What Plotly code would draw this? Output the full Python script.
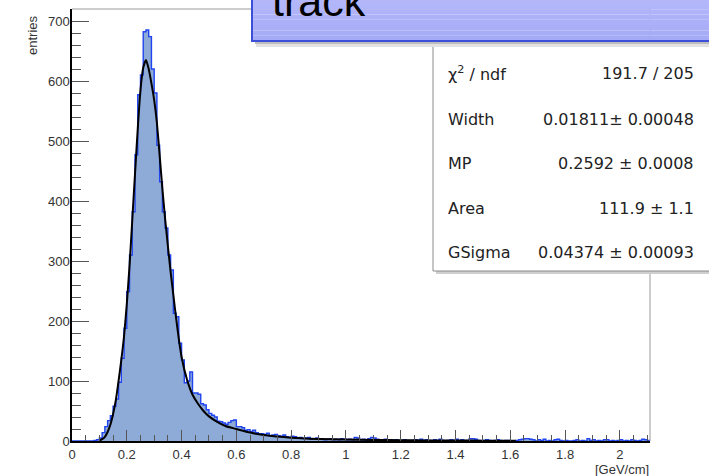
import numpy as np
import plotly.graph_objects as go

# ---------------- data ----------------
bin_width = 0.01
x_start = 0.0
counts = [
    0, 0, 0, 0, 0, 0, 0, 0, 1, 2,
    5, 14, 24, 34, 42, 58, 70, 98, 138, 188,
    249, 310, 382, 477, 577, 610, 682, 685, 674, 620,
    580, 493, 432, 382, 355, 310, 285, 213, 207, 163,
    135, 97, 100, 115, 80, 80, 78, 62, 60, 52,
    46, 43, 40, 33, 32, 30, 28, 31, 34, 35,
    24, 24, 22, 18, 19, 16, 18, 14, 12, 12,
    11, 13, 9, 10, 11, 9, 8, 10, 7, 6,
    8, 7, 5, 6, 4, 5, 6, 3, 4, 5,
    3, 4, 2, 3, 4, 2, 3, 2, 4, 3,
    2, 3, 2, 6, 5, 2, 3, 1, 4, 6,
    5, 3, 1, 2, 3, 1, 2, 1, 2, 0,
    1, 2, 1, 0, 1, 2, 1, 3, 1, 2,
    1, 0, 2, 1, 3, 1, 0, 1, 2, 1,
    3, 1, 2, 0, 1, 4, 4, 3, 1, 0,
    1, 2, 1, 0, 1, 2, 1, 0, 1, 1,
    0, 0, 1, 2, 3, 4, 4, 3, 2, 0,
    2, 1, 3, 0, 1, 0, 2, 3, 1, 0,
    1, 0, 0, 1, 2, 0, 1, 0, 4, 1,
    2, 0, 1, 0, 2, 2, 0, 1, 0, 1,
    2, 0, 1, 0, 2, 1, 0, 1, 3, 2,
    1,
]

fit_x = [0.10, 0.11, 0.12, 0.13, 0.14, 0.15, 0.16, 0.17, 0.18, 0.19,
         0.20, 0.21, 0.22, 0.23, 0.24, 0.25, 0.26, 0.27, 0.28, 0.29,
         0.30, 0.31, 0.32, 0.33, 0.34, 0.35, 0.36, 0.37, 0.38, 0.39,
         0.40, 0.42, 0.44, 0.46, 0.48, 0.50, 0.53, 0.56, 0.60, 0.65,
         0.70, 0.80, 0.90, 1.00, 1.10, 1.20, 1.30, 1.40, 1.50, 1.62]
fit_y = [1, 3, 7, 15, 27, 45, 68, 100, 135, 175,
         228, 292, 368, 445, 520, 585, 622, 635, 620, 596,
         568, 530, 476, 420, 370, 325, 282, 243, 205, 170,
         140, 102, 77, 62, 50, 41, 32, 25, 20, 14,
         10, 5.5, 3.5, 2.5, 1.8, 1.3, 1.0, 0.8, 0.6, 0.5]

x_range = [0, 2.11]
y_range = [0, 720]

title_text = "track"
x_title = "[GeV/cm]"
y_title = "entries"
stats_labels = ["χ<sup>2</sup> / ndf", "Width", "MP", "Area", "GSigma"]
stats_values = ["191.7 / 205", "0.01811± 0.00048", "0.2592 ± 0.0008",
                "111.9 ± 1.1", "0.04374 ± 0.00093"]

# ---------------- geometry helpers (pixel -> paper) ----------------
W, H = 709, 476
L, R, T, B = 72, 650, 9, 441


def px(x):
    return (x - L) / (R - L)


def py(y):
    return (B - y) / (B - T)


FONT = "Liberation Sans, Arial, sans-serif"
STAT_FONT = "DejaVu Sans, sans-serif"

edges = x_start + bin_width * np.arange(len(counts) + 1)
step_y = list(counts) + [counts[-1]]

fig = go.Figure()
fig.add_trace(go.Scatter(
    x=edges, y=step_y, mode="lines", line_shape="hv",
    line=dict(color="#1f44f0", width=1.4),
    fill="tozeroy", fillcolor="#8eaad6", hoverinfo="skip", showlegend=False))
fig.add_trace(go.Scatter(
    x=fit_x, y=fit_y, mode="lines", line_shape="spline",
    line=dict(color="black", width=2, smoothing=0.6),
    hoverinfo="skip", showlegend=False))

shapes = []
# gray top/right frame
shapes.append(dict(type="line", xref="paper", yref="paper", x0=0, x1=1, y0=1, y1=1,
                   line=dict(color="#9a9a9a", width=1), layer="above"))
shapes.append(dict(type="line", xref="paper", yref="paper", x0=1, x1=1, y0=0, y1=1,
                   line=dict(color="#9a9a9a", width=1), layer="above"))

# stats box (shadow + box)
shapes.append(dict(type="rect", xref="paper", yref="paper",
                   x0=px(436), x1=px(730), y0=py(274), y1=py(45),
                   fillcolor="#cfcfcf", line=dict(width=0), layer="above"))
shapes.append(dict(type="rect", xref="paper", yref="paper",
                   x0=px(433), x1=px(730), y0=py(271), y1=py(40),
                   fillcolor="white", line=dict(color="#8a8a8a", width=1), layer="above"))

# title box shadow
shapes.append(dict(type="rect", xref="paper", yref="paper",
                   x0=px(256), x1=px(730), y0=py(47), y1=py(41),
                   fillcolor="#e2e2e2", line=dict(width=0), layer="above"))
shapes.append(dict(type="rect", xref="paper", yref="paper",
                   x0=px(255), x1=px(730), y0=py(44), y1=py(41),
                   fillcolor="#bdbdbd", line=dict(width=0), layer="above"))
# title box gradient bands
top_c = np.array([184, 188, 252])
bot_c = np.array([164, 170, 246])
n_band = 10
y_top, y_bot = -12, 41
for i in range(n_band):
    f = (i + 0.5) / n_band
    c = top_c + (bot_c - top_c) * f
    ya = y_top + (y_bot - y_top) * i / n_band
    yb = y_top + (y_bot - y_top) * (i + 1) / n_band
    shapes.append(dict(type="rect", xref="paper", yref="paper",
                       x0=px(252), x1=px(730), y0=py(yb), y1=py(ya),
                       fillcolor="rgb(%d,%d,%d)" % tuple(c.astype(int)),
                       line=dict(width=0), layer="above"))
shapes.append(dict(type="rect", xref="paper", yref="paper",
                   x0=px(252), x1=px(730), y0=py(41), y1=py(-12),
                   fillcolor="rgba(0,0,0,0)", line=dict(color="#3b4fd8", width=2),
                   layer="above"))

annotations = []
annotations.append(dict(xref="paper", yref="paper", x=px(270), y=py(27),
                        xanchor="left", yanchor="bottom", showarrow=False,
                        text=title_text, font=dict(family=FONT, size=43, color="black")))
row_y = [73, 119, 163, 208, 252]
for lab, val, yy in zip(stats_labels, stats_values, row_y):
    annotations.append(dict(xref="paper", yref="paper", x=px(446), y=py(yy),
                            xanchor="left", yanchor="middle", showarrow=False,
                            text=lab, font=dict(family=STAT_FONT, size=16, color="#222")))
    annotations.append(dict(xref="paper", yref="paper", x=px(696), y=py(yy),
                            xanchor="right", yanchor="middle", showarrow=False,
                            text=val, font=dict(family=STAT_FONT, size=16, color="#222")))
annotations.append(dict(xref="paper", yref="paper", x=px(651), y=py(469),
                        xanchor="right", yanchor="middle", showarrow=False,
                        text=x_title, font=dict(family=FONT, size=13, color="#333")))
annotations.append(dict(xref="paper", yref="paper", x=px(32), y=py(35),
                        xanchor="center", yanchor="middle", showarrow=False, textangle=-90,
                        text=y_title, font=dict(family=FONT, size=13, color="#333")))

fig.update_layout(
    width=W, height=H,
    margin=dict(l=L, r=W - R, t=T, b=H - B, pad=0),
    paper_bgcolor="white", plot_bgcolor="white",
    shapes=shapes, annotations=annotations, showlegend=False,
    xaxis=dict(range=x_range, tick0=0, dtick=0.2, ticks="inside", ticklen=11,
               tickcolor="#555", tickwidth=1,
               minor=dict(ticks="inside", ticklen=6, tick0=0, dtick=0.05,
                          tickcolor="#555", tickwidth=1, showgrid=False),
               showline=True, linecolor="black", linewidth=1.5,
               showgrid=False, zeroline=False, ticklabelstandoff=1,
               tickfont=dict(family=FONT, size=13, color="#333")),
    yaxis=dict(range=y_range, tick0=0, dtick=100, ticks="inside", ticklen=17,
               tickcolor="#555", tickwidth=1,
               minor=dict(ticks="inside", ticklen=9, tick0=0, dtick=20,
                          tickcolor="#555", tickwidth=1, showgrid=False),
               showline=True, linecolor="black", linewidth=1.5,
               showgrid=False, zeroline=False, ticklabelstandoff=-2,
               tickfont=dict(family=FONT, size=13, color="#333")),
)

fig.write_html("out.html", config={"displayModeBar": False},
               post_script="document.body.style.margin='0px';document.body.style.overflow='hidden';")
